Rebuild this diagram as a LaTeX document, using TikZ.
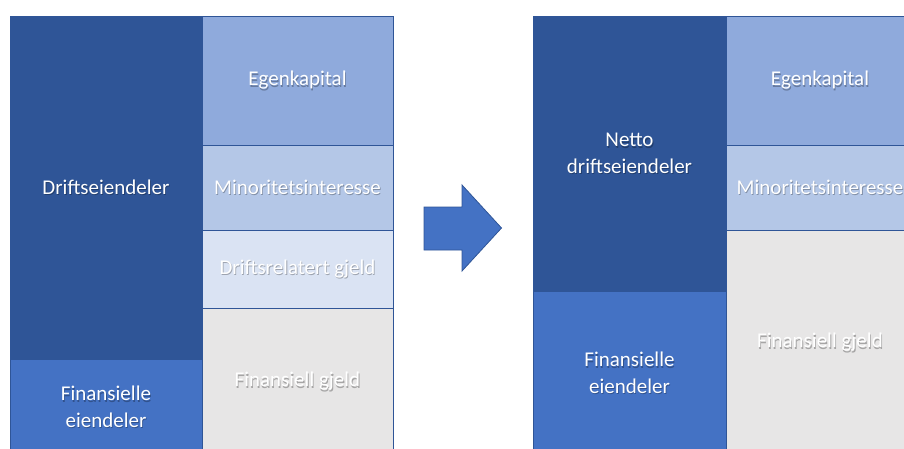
\documentclass[tikz,border=0pt]{standalone}
\usepackage{fontspec}
\setmainfont{Carlito}
\definecolor{edge}{HTML}{2F5597}
\definecolor{darkblue}{HTML}{2F5597}
\definecolor{midblue}{HTML}{4472C4}
\definecolor{equity}{HTML}{8FAADC}
\definecolor{minority}{HTML}{B4C7E7}
\definecolor{opdebt}{HTML}{DAE3F3}
\definecolor{findebt}{HTML}{E7E6E6}
\tikzset{
  cell/.style={draw=edge, line width=0.9pt, inner sep=0pt, outer sep=0pt,
    anchor=north west, minimum width=#1},
  lbl/.style={text=white, align=center, inner sep=0pt,
    font=\fontsize{21}{26.5}\selectfont},
  lblshadow/.style={lbl, text=black, text opacity=0.28, xshift=0.8pt, yshift=-1.2pt},
}
% white label with a soft drop shadow underneath
\newcommand\celltext[3]{%
  \node[lblshadow] (#1-s) at (#2) {#3};
  \node[lbl] (#1) at (#2) {#3};}
\begin{document}
\begin{tikzpicture}[x=1pt, y=-1pt]
\useasboundingbox (0,0) rectangle (904,449);
\clip (0,0) rectangle (904,449);

% balance sheet before reorganisation
\node[cell=192pt, minimum height=343pt, fill=darkblue] (dr) at (10,16) {};
\node[cell=192pt, minimum height=96pt, fill=midblue] (fe) at (10,359) {};
\node[cell=191pt, minimum height=129pt, fill=equity] (ek) at (202,16) {};
\node[cell=191pt, minimum height=85pt, fill=minority] (mi) at (202,145) {};
\node[cell=191pt, minimum height=78pt, fill=opdebt] (dg) at (202,230) {};
\node[cell=191pt, minimum height=147pt, fill=findebt] (fg) at (202,308) {};

\celltext{dr-t}{dr.center}{Driftseiendeler}
\celltext{fe-t}{fe.center}{Finansielle\\eiendeler}
\celltext{ek-t}{ek.center}{Egenkapital}
\celltext{mi-t}{mi.center}{Minoritetsinteresse}
\celltext{dg-t}{dg.center}{Driftsrelatert gjeld}
\celltext{fg-t}{fg.center}{Finansiell gjeld}

% block arrow
\draw[fill=midblue, draw=edge, line width=0.8pt]
  (424,207) -- (462,207) -- (462,185) -- (501.5,228) -- (462,271)
  -- (462,250) -- (424,250) -- cycle;

% balance sheet after reorganisation
\node[cell=193pt, minimum height=275pt, fill=darkblue] (nd) at (533,16) {};
\node[cell=193pt, minimum height=164pt, fill=midblue] (fe2) at (533,291) {};
\node[cell=188pt, minimum height=129pt, fill=equity] (ek2) at (726,16) {};
\node[cell=188pt, minimum height=85pt, fill=minority] (mi2) at (726,145) {};
\node[cell=188pt, minimum height=225pt, fill=findebt] (fg2) at (726,230) {};

\celltext{nd-t}{nd.center}{Netto\\driftseiendeler}
\celltext{fe2-t}{fe2.center}{Finansielle\\eiendeler}
\celltext{ek2-t}{ek2.center}{Egenkapital}
\celltext{mi2-t}{mi2.center}{Minoritetsinteresse}
\celltext{fg2-t}{fg2.center}{Finansiell gjeld}
\end{tikzpicture}
\end{document}
